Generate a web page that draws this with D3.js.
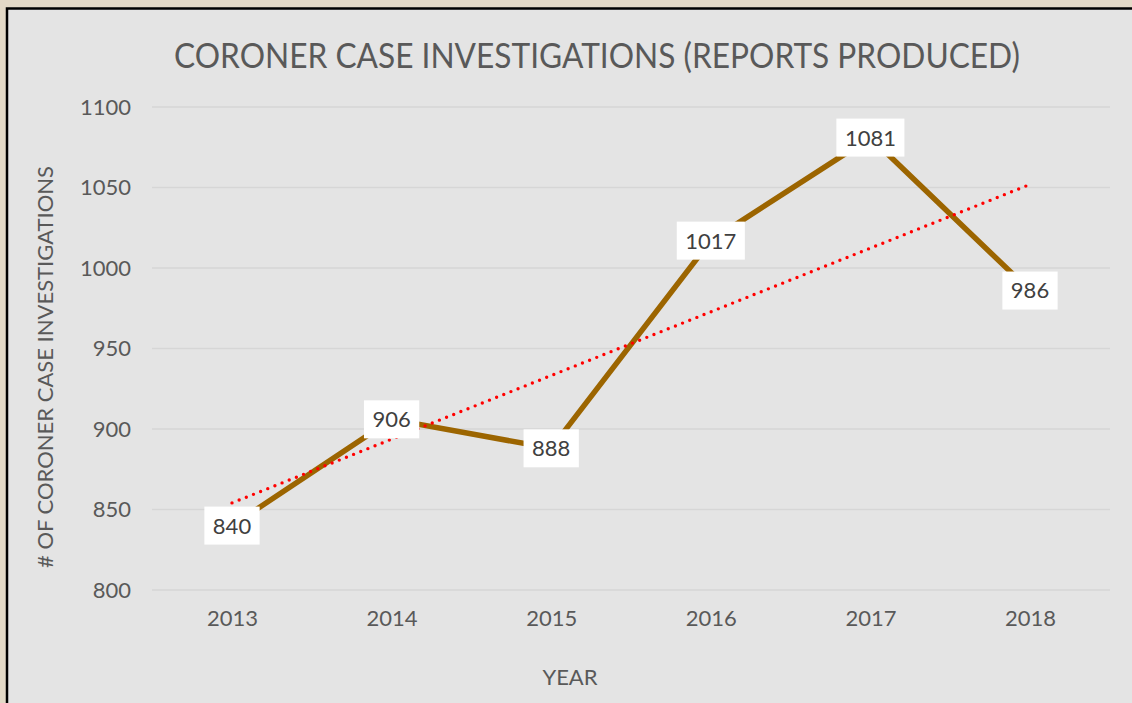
<!DOCTYPE html>
<html><head><meta charset="utf-8">
<script src="https://cdn.jsdelivr.net/npm/d3@7"></script>
<style>html,body{margin:0;padding:0;background:#e2d8c6;overflow:hidden}</style>
</head><body>
<svg id="c" width="1132" height="703"></svg>
<script>
const years = ["2013","2014","2015","2016","2017","2018"];
const reports = [840, 906, 888, 1017, 1081, 986];
const yTicks = [800, 850, 900, 950, 1000, 1050, 1100];
const trendEnds = [854.1, 1051.9]; // linear trendline at first and last year
const titleText = "CORONER CASE INVESTIGATIONS (REPORTS PRODUCED)";
const yTitle = "# OF CORONER CASE INVESTIGATIONS";
const xTitle = "YEAR";

const svg = d3.select("#c");
const font = "Lato, 'Open Sans', sans-serif";

// parchment background
svg.append("rect").attr("x",0).attr("y",0).attr("width",1132).attr("height",703).attr("fill","#e3d9c7");
// chart area
svg.append("rect").attr("x",7).attr("y",8.5).attr("width",1140).attr("height",720)
  .attr("fill","#e4e4e4").attr("stroke","#000").attr("stroke-width",2.5);

const x = d3.scalePoint().domain(years).range([232, 1030]);
const y = d3.scaleLinear().domain([800, 1100]).range([590, 107]);

// gridlines
svg.append("g").selectAll("line").data(yTicks).join("line")
  .attr("x1",152).attr("x2",1110)
  .attr("y1",d=>y(d)).attr("y2",d=>y(d))
  .attr("stroke","#d6d6d6").attr("stroke-width",1.5);

// y axis labels
const yAxis = svg.append("g").attr("transform","translate(142,0)")
  .call(d3.axisLeft(y).tickValues(yTicks).tickFormat(d3.format("d")).tickSize(0).tickPadding(11));
yAxis.select(".domain").remove();
yAxis.selectAll("text").attr("font-family",font).attr("font-size",22).attr("fill","#595959");

// x axis labels
const xAxis = svg.append("g").attr("transform","translate(0,602)")
  .call(d3.axisBottom(x).tickSize(0).tickPadding(8));
xAxis.select(".domain").remove();
xAxis.selectAll("text").attr("font-family",font).attr("font-size",22).attr("fill","#595959");

// title
svg.append("text").attr("x",597).attr("y",68).attr("text-anchor","middle")
  .attr("font-family",font).attr("font-size",35).attr("fill","#595959")
  .attr("textLength",846).attr("lengthAdjust","spacingAndGlyphs")
  .text(titleText);

// axis titles
svg.append("text").attr("transform","translate(53,367) rotate(-90)").attr("text-anchor","middle")
  .attr("font-family",font).attr("font-size",22).attr("fill","#595959").text(yTitle);
svg.append("text").attr("x",570).attr("y",685).attr("text-anchor","middle")
  .attr("font-family",font).attr("font-size",22).attr("fill","#595959").text(xTitle);

// data line
const line = d3.line().x((d,i)=>x(years[i])).y(d=>y(d));
svg.append("path").datum(reports).attr("d",line)
  .attr("fill","none").attr("stroke","#9c6500").attr("stroke-width",5.5).attr("stroke-linejoin","miter");

// trendline
svg.append("line")
  .attr("x1",x(years[0])).attr("y1",y(trendEnds[0]))
  .attr("x2",x(years[years.length-1])).attr("y2",y(trendEnds[1]))
  .attr("stroke","#ff0000").attr("stroke-width",3.4)
  .attr("stroke-linecap","round").attr("stroke-dasharray","0 7.7");

// data labels
const lab = svg.append("g").selectAll("g").data(reports).join("g")
  .attr("transform",(d,i)=>`translate(${x(years[i])},${y(d)})`);
lab.each(function(d){
  const g = d3.select(this);
  const t = g.append("text").attr("text-anchor","middle").attr("dy","0.36em")
    .attr("font-family",font).attr("font-size",22).attr("fill","#404040").text(d);
  const w = t.node().getComputedTextLength();
  g.insert("rect","text").attr("x",-w/2-8.5).attr("y",-19).attr("width",w+17).attr("height",38).attr("fill","#fff");
});
</script>
</body></html>
